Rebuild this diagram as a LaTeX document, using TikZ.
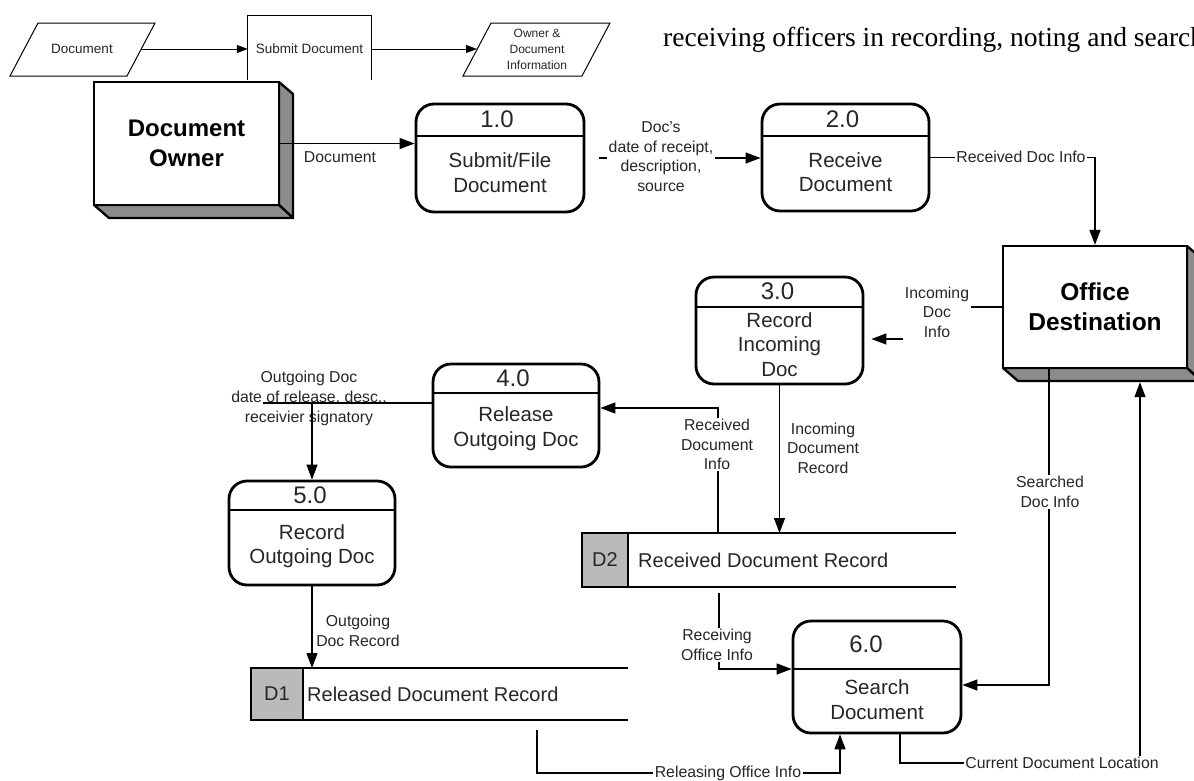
\documentclass[tikz,border=0pt]{standalone}
\usepackage{fontspec}
\setmainfont{Liberation Sans}
\newfontfamily\serifdoc{Liberation Serif}
\usetikzlibrary{arrows.meta,calc}

% process bubble: name, centre x, centre y, width, height, divider y, number shift, number, text
\newcommand\procbox[9]{%
  \node[proc, minimum width=#4pt, minimum height=#5pt] (#1) at (#2,#3) {};
  \draw[line width=2pt] (#1.west |- 0,#6) -- (#1.east |- 0,#6);
  \node[num] (#1n) at ($(#1.north)!0.5!(#1.north |- 0,#6)+(#7,0)$) {#8};
  \node[ptxt] (#1t) at ($(#1.south)!0.5!(#1.south |- 0,#6)+(0,-2)$) {#9};
}

\begin{document}
\begin{tikzpicture}[x=1pt,y=-1pt,
  proc/.style={draw, fill=white, line width=2.8pt, rounded corners=18pt, inner sep=0pt},
  ent/.style={draw, fill=white, line width=2.3pt, inner sep=0pt},
  shade/.style={draw, fill=black!45, line width=2.3pt, line join=round},
  flow/.style={line width=1.3pt, -{Triangle[length=15pt,width=11pt]}},
  thinflow/.style={line width=1pt, -{Triangle[length=11pt,width=8pt]}},
  link/.style={line width=1.3pt},
  lbl/.style={font=\fontsize{15.8}{19.5}\selectfont, text=black!85, align=center, inner sep=1.5pt},
  wlbl/.style={lbl, fill=white},
  num/.style={font=\fontsize{24}{28}\selectfont, text=black!85},
  ptxt/.style={font=\fontsize{20.5}{24.5}\selectfont, text=black!85, align=center},
  etxt/.style={font=\bfseries\fontsize{24}{29.5}\selectfont, align=center},
  small/.style={font=\fontsize{13.5}{16}\selectfont, text=black!85, align=center},
  tiny/.style={font=\fontsize{12}{16}\selectfont, text=black!85, align=center},
  storetxt/.style={font=\fontsize{20}{24}\selectfont, text=black!85},
]
\useasboundingbox (0,0) rectangle (1194,780);
\fill[white] (0,0) rectangle (1194,780);

% ---- context strip at the top ----
\draw[line width=1pt] (10,76) -- (38,23) -- (155,23) -- (127,76) -- cycle;
\node[small] (tdoc) at (82,49) {Document};
\coordinate (tdocR) at (141,49);
\node[small, minimum width=123pt, minimum height=68pt, inner sep=0pt] (tsub) at (309.5,49) {Submit Document};
\draw[line width=1pt] (tsub.west |- 0,80) -- (tsub.west |- 0,15) -- (tsub.east |- 0,15) -- (tsub.east |- 0,80);
\draw[line width=1pt] (463,76) -- (491,23) -- (610,23) -- (582,76) -- cycle;
\node[tiny] (tinfo) at (537,49) {Owner \&\\Document\\Information};
\coordinate (tinfoL) at (477,49);
\draw[thinflow] (tdocR) -- (tsub.west);
\draw[thinflow] (tsub.east) -- (tinfoL);

\node[anchor=base west, inner sep=0pt, font=\serifdoc\fontsize{27.5}{32}\selectfont]
  (para) at (663,46) {receiving officers in recording, noting and search};

% ---- external entities ----
\draw[shade] (279,82) -- (293,94) -- (293,218) -- (279,205) -- cycle;
\draw[shade] (94,205) -- (109,218) -- (293,218) -- (279,205) -- cycle;
\node[ent, etxt, minimum width=185pt, minimum height=123pt] (own) at (186.5,143.5) {Document\\Owner};

\draw[shade] (1187,246) -- (1201,258) -- (1201,381) -- (1187,368) -- cycle;
\draw[shade] (1003,368) -- (1018,381) -- (1201,381) -- (1187,368) -- cycle;
\node[ent, etxt, font=\bfseries\fontsize{24.5}{30}\selectfont, minimum width=184pt, minimum height=122pt] (od) at (1095,307) {Office\\Destination};

% ---- processes ----
\procbox{p1}{500}{158}{168}{108}{136}{-3}{1.0}{Submit/File\\Document}
\procbox{p2}{845.5}{157.5}{167}{107}{136}{-3}{2.0}{Receive\\Document}
\procbox{p3}{779.5}{330.5}{167}{107}{307}{-2}{3.0}{Record\\Incoming\\Doc}
\procbox{p4}{516}{415.5}{166}{103}{393}{-3}{4.0}{Release\\Outgoing Doc}
\procbox{p5}{312}{533}{166}{104}{510}{-2}{5.0}{Record\\Outgoing Doc}
\procbox{p6}{877}{677}{168}{112}{669}{-11}{6.0}{Search\\Document}

% ---- data stores ----
\node[minimum width=374pt, minimum height=54pt, inner sep=0pt, outer sep=0pt] (d2) at (769,560) {};
\filldraw[fill=black!27, line width=2pt] (d2.north west) rectangle ($(d2.south west)+(46,0)$);
\draw[line width=2pt] (d2.north west) -- (d2.north east) (d2.south west) -- (d2.south east);
\node[storetxt] (d2id) at ($(d2.west)+(23,0)$) {D2};
\node[storetxt, anchor=west, inner sep=0pt] (d2t) at ($(d2.west)+(56,0)$) {Received Document Record};

\node[minimum width=377pt, minimum height=52pt, inner sep=0pt, outer sep=0pt] (d1) at (439.5,694) {};
\filldraw[fill=black!27, line width=2pt] (d1.north west) rectangle ($(d1.south west)+(52,0)$);
\draw[line width=2pt] (d1.north west) -- (d1.north east) (d1.south west) -- (d1.south east);
\node[storetxt] (d1id) at ($(d1.west)+(26,0)$) {D1};
\node[storetxt, anchor=west, inner sep=0pt] (d1t) at ($(d1.west)+(56,0)$) {Released Document Record};

% ---- data flows ----
\draw[flow] (own.east) -- (own.east -| p1.west);
\node[lbl] (fdoc) at (340,157) {Document};

\coordinate (s12) at ($(p1.east)+(14,0)$);
\draw[flow] (s12) -- (s12 -| p2.west);
\node[wlbl] (f12) at (661,156.5) {Doc's\\date of receipt,\\description,\\source};

\draw[flow] (p2.east) -| (od.north);
\node[wlbl] (f2o) at (1021,157) {Received Doc Info};

\draw[flow, shorten >=7pt] (od.west) -- (937,307) -- (937,339) -- (p3.east |- 0,339);
\node[wlbl, inner ysep=5pt] (fo3) at (937,312) {Incoming\\Doc\\Info};

\draw[flow] (p3.south) -- (p3.south |- d2.north);
\node[lbl] (f3d) at (823,448) {Incoming\\Document\\Record};

\draw[flow] (d2.north -| 718,0) -- (718,408) -- (p4.east |- 0,408);
\node[wlbl] (fd4) at (717,444.5) {Received\\Document\\Info};

\node[lbl, font=\fontsize{15.8}{20}\selectfont] (f45) at (309,398) {Outgoing Doc\\date of release, desc.,\\receivier signatory};
\draw[link] (p4.west |- 0,403) -- (263,403);
\draw[flow] (p5.north |- 0,403) -- (p5.north);

\draw[flow] (p5.south) -- (p5.south |- d1.north);
\node[lbl] (f5d) at (358,631) {Outgoing\\Doc Record};

\draw[flow] ($(d1.south -| 537,0)+(0,10)$) -- (537,773) -- (840,773) -- (p6.south -| 840,0);
\node[wlbl] (fd16) at (728,773) {Releasing Office Info};

\draw[flow] ($(d2.south -| 719,0)+(0,6)$) -- (719,669) -- (p6.west |- 0,669);
\node[wlbl] (fd26) at (717,645) {Receiving\\Office Info};

\draw[flow] (od.south -| 1049,0) -- (1049,685) -- (p6.east |- 0,685);
\node[wlbl] (fo6) at (1050,492) {Searched\\Doc Info};

\draw[flow] (p6.south -| 900,0) -- (900,763) -- (1140,763) -- ($(od.south -| 1140,0)+(0,13)$);
\node[wlbl] (f6o) at (1062,763) {Current Document Location};
\end{tikzpicture}
\end{document}
